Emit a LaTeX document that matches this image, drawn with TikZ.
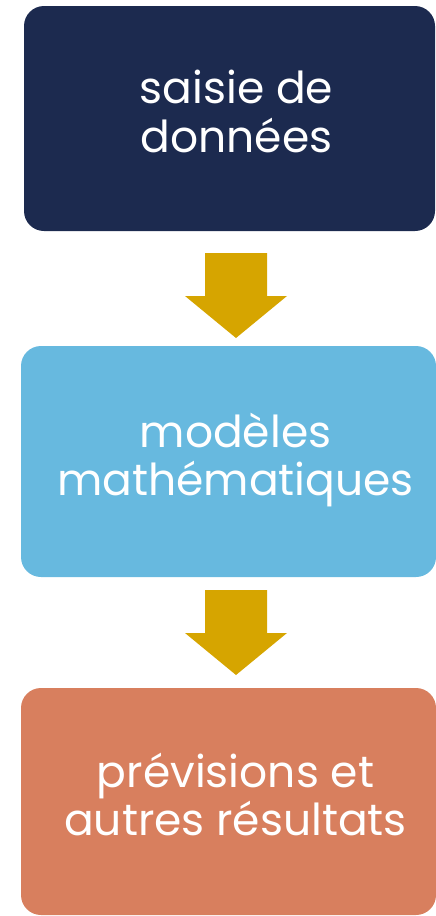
\documentclass[tikz,border=0pt]{standalone}
\usepackage{fontspec}
\setmainfont{Poppins}
\usepackage{tikz}
\usetikzlibrary{calc}

\definecolor{marine}{RGB}{28,42,79}
\definecolor{ciel}{RGB}{103,185,223}
\definecolor{brique}{RGB}{216,127,94}
\definecolor{ocre}{RGB}{214,165,0}

\newcommand{\deuxlignes}[1]{\hspace*{14pt}\begin{tabular}{@{}c@{}}#1\end{tabular}}

\tikzset{
  boite/.style={rectangle, rounded corners=20pt, outer sep=0pt, inner sep=0pt,
    text=white, font=\fontsize{44}{48}\selectfont},
  fleche/.style={fill=ocre}
}

\begin{document}
\begin{tikzpicture}[x=1pt,y=-1pt]
\useasboundingbox (0,0) rectangle (436,916);

\node[boite, fill=marine, minimum width=411pt, minimum height=225pt] (saisie) at (229.5,118.5) {\deuxlignes{saisie de\\donn\'ees}};
\node[boite, fill=ciel, minimum width=415pt, minimum height=231pt] (modeles) at (228.5,461.5) {\deuxlignes{mod\`eles\\math\'ematiques}};
\node[boite, fill=brique, minimum width=415pt, minimum height=227pt] (previsions) at (228.5,801.5) {\deuxlignes{pr\'evisions et\\autres r\'esultats}};

%fleches
\coordinate (haut1) at ($(saisie.south)+(6.5,22)$); \coordinate (bout1) at ($(modeles.north)+(7.5,-8)$);
\coordinate (haut2) at ($(modeles.south)+(7.5,13)$); \coordinate (bout2) at ($(previsions.north)+(7.5,-13)$);

\fill[fleche] ($(haut1)+(-31,0)$) -- ($(haut1)+(31,0)$) -- ($(haut1)+(31,43)$) -- ($(haut1)+(51,43)$) -- (bout1) -- ($(haut1)+(-51,43)$) -- ($(haut1)+(-31,43)$) -- cycle;
\fill[fleche] ($(haut2)+(-31,0)$) -- ($(haut2)+(31,0)$) -- ($(haut2)+(31,43)$) -- ($(haut2)+(51,43)$) -- (bout2) -- ($(haut2)+(-51,43)$) -- ($(haut2)+(-31,43)$) -- cycle;
\end{tikzpicture}
\end{document}
